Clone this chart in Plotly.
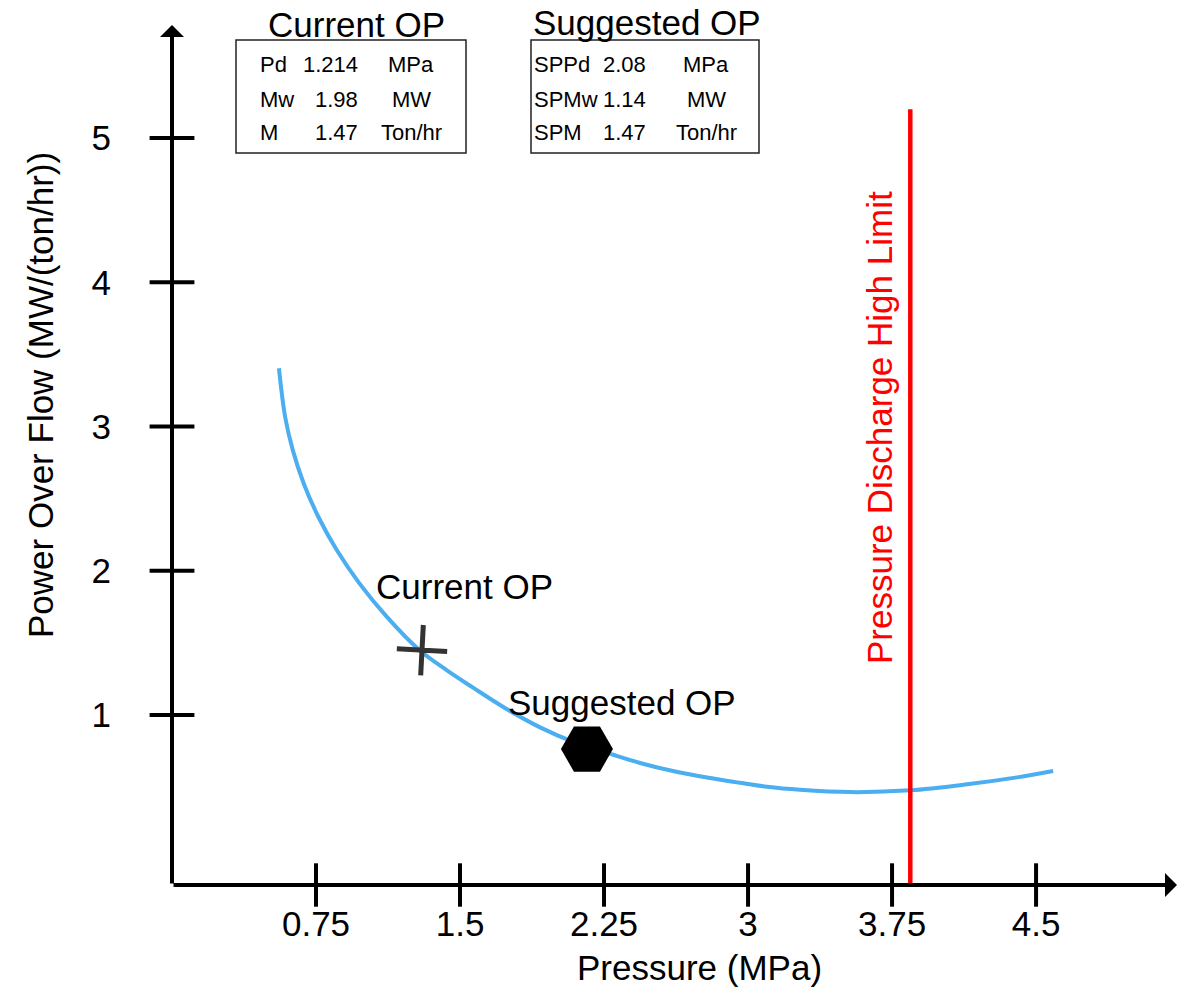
import plotly.graph_objects as go

# ---------------- data ----------------
pressure = [0.557, 0.589, 0.629, 0.686, 0.762, 0.858, 0.976, 1.118, 1.288, 1.432,
            1.568, 1.745, 1.917, 2.089, 2.297, 2.438, 2.609, 2.786, 2.958, 3.099,
            3.271, 3.531, 3.844, 4.141, 4.401, 4.589]
power_over_flow = [3.404, 3.068, 2.837, 2.606, 2.375, 2.144, 1.913, 1.682, 1.451, 1.310,
                   1.190, 1.040, 0.915, 0.815, 0.725, 0.668, 0.612, 0.567, 0.531, 0.503,
                   0.482, 0.466, 0.478, 0.520, 0.568, 0.612]
current_op_x = [1.302]
current_op_y = [1.45]
suggested_op_x = [2.161]
suggested_op_y = [0.764]
limit_pressure = 3.845
limit_top = 5.2
x_ticks = [0.75, 1.5, 2.25, 3, 3.75, 4.5]
x_tick_text = ["0.75", "1.5", "2.25", "3", "3.75", "4.5"]
y_ticks = [1, 2, 3, 4, 5]
y_tick_text = ["1", "2", "3", "4", "5"]
current_rows = [("Pd", "1.214", "MPa"), ("Mw", "1.98", "MW"), ("M", "1.47", "Ton/hr")]
suggested_rows = [("SPPd", "2.08", "MPa"), ("SPMw", "1.14", "MW"), ("SPM", "1.47", "Ton/hr")]

# ---------------- layout geometry ----------------
W, H = 1183, 991
L, R, T, B = 172, 6, 25, 106
X_RANGE = [0, 5.234]
Y_RANGE = [-0.178, 5.784]
FONT = "Liberation Sans, Arial, sans-serif"
BIG = 35
SMALL = 22


def pxx(x):
    return (x - L) / (W - L - R)


def pxy(y):
    return (H - B - y) / (H - T - B)


def label(x, y, text, size=BIG, color="black", xref="paper", yref="paper",
          xanchor="center", angle=0):
    return dict(x=x, y=y, xref=xref, yref=yref, text=text, showarrow=False,
                xanchor=xanchor, yanchor="middle", textangle=angle,
                font=dict(size=size, color=color, family=FONT))


fig = go.Figure()

fig.add_trace(go.Scatter(x=pressure, y=power_over_flow, mode="lines",
                         line=dict(color="#4aaef0", width=4, shape="spline", smoothing=1),
                         hoverinfo="skip"))
fig.add_trace(go.Scatter(x=[limit_pressure, limit_pressure], y=[Y_RANGE[0], limit_top],
                         mode="lines", line=dict(color="#ff0000", width=4.5),
                         cliponaxis=False, hoverinfo="skip"))
# crossing tick marks
fig.add_trace(go.Scatter(x=x_ticks, y=[Y_RANGE[0]] * len(x_ticks), mode="markers",
                         marker=dict(symbol="line-ns", size=31, color="black",
                                     line=dict(width=4, color="black")),
                         cliponaxis=False, hoverinfo="skip"))
fig.add_trace(go.Scatter(x=[0] * len(y_ticks), y=y_ticks, mode="markers",
                         marker=dict(symbol="line-ew", size=32, color="black",
                                     line=dict(width=4, color="black")),
                         cliponaxis=False, hoverinfo="skip"))
# operating points
fig.add_trace(go.Scatter(x=current_op_x, y=current_op_y, mode="markers",
                         marker=dict(symbol="cross-thin", size=36, color="#333333", angle=3,
                                     line=dict(width=5, color="#333333")),
                         hoverinfo="skip"))
fig.add_trace(go.Scatter(x=suggested_op_x, y=suggested_op_y, mode="markers",
                         marker=dict(symbol="hexagon2", size=52, color="black",
                                     line=dict(width=0)),
                         hoverinfo="skip"))

annotations = []
# axis lines with arrowheads
annotations.append(dict(x=X_RANGE[1], y=Y_RANGE[0], ax=0, ay=Y_RANGE[0],
                        xref="x", yref="y", axref="x", ayref="y", text="",
                        showarrow=True, arrowhead=1, arrowwidth=4, arrowsize=1,
                        arrowcolor="black"))
annotations.append(dict(x=0, y=Y_RANGE[1], ax=0, ay=Y_RANGE[0],
                        xref="x", yref="y", axref="x", ayref="y", text="",
                        showarrow=True, arrowhead=1, arrowwidth=4, arrowsize=1,
                        arrowcolor="black"))

# axis titles
annotations.append(label(pxx(699), pxy(968), "Pressure (MPa)"))
annotations.append(label(pxx(40), pxy(395), "Power Over Flow (MW/(ton/hr))", angle=-90))

# point labels
annotations.append(label(1.521, 1.888, "Current OP", xref="x", yref="y"))
annotations.append(label(2.344, 1.090, "Suggested OP", xref="x", yref="y"))
annotations.append(label(3.682, 2.997, "Pressure Discharge High Limit", color="#ff0000",
                         xref="x", yref="y", angle=-90))

# info boxes
annotations.append(label(pxx(356), pxy(24), "Current OP"))
annotations.append(label(pxx(647), pxy(22), "Suggested OP"))

row_y = [65, 99, 133]
box_cols = [
    (current_rows, 258, 360, 411),
    (suggested_rows, 532, 648, 706),
]
for rows, c1, c2, c3 in box_cols:
    for (a, b, c), yy in zip(rows, row_y):
        annotations.append(label(pxx(c1), pxy(yy), a, size=SMALL, xanchor="left"))
        annotations.append(label(pxx(c2), pxy(yy), b, size=SMALL, xanchor="right"))
        annotations.append(label(pxx(c3), pxy(yy), c, size=SMALL, xanchor="center"))

shapes = [
    dict(type="rect", xref="paper", yref="paper", x0=pxx(236), x1=pxx(466),
         y0=pxy(153), y1=pxy(40), line=dict(color="#222222", width=1.5)),
    dict(type="rect", xref="paper", yref="paper", x0=pxx(531), x1=pxx(759),
         y0=pxy(153), y1=pxy(40), line=dict(color="#222222", width=1.5)),
]

fig.update_layout(
    width=W, height=H,
    margin=dict(l=L, r=R, t=T, b=B, pad=0),
    paper_bgcolor="white", plot_bgcolor="white",
    showlegend=False,
    font=dict(family=FONT, size=BIG, color="black"),
    annotations=annotations,
    shapes=shapes,
    xaxis=dict(range=X_RANGE, showgrid=False, zeroline=False, showline=False,
               tickmode="array", tickvals=x_ticks, ticktext=x_tick_text,
               ticks="outside", ticklen=8, tickcolor="rgba(0,0,0,0)",
               tickfont=dict(size=BIG, family=FONT, color="black")),
    yaxis=dict(range=Y_RANGE, showgrid=False, zeroline=False, showline=False,
               tickmode="array", tickvals=y_ticks, ticktext=y_tick_text,
               ticks="outside", ticklen=53, tickcolor="rgba(0,0,0,0)",
               tickfont=dict(size=BIG, family=FONT, color="black")),
)

fig.write_html("out.html", config={"displayModeBar": False})
